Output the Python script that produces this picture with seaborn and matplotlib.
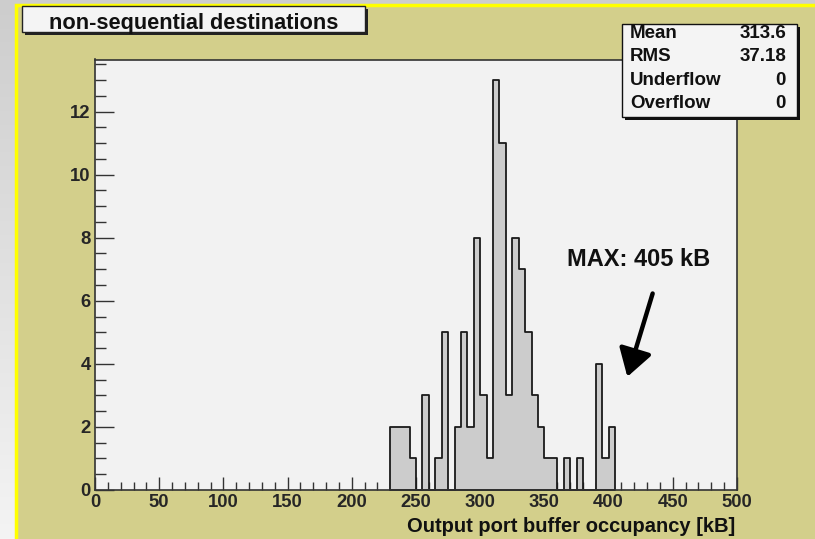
import numpy as np
import pandas as pd
import matplotlib
matplotlib.use("Agg")
import matplotlib.pyplot as plt
import seaborn as sns
from matplotlib.patches import Rectangle
from matplotlib.colors import LinearSegmentedColormap
from matplotlib.ticker import MultipleLocator

# ---------------- data ----------------
bin_lower_edges = [230, 235, 240, 245, 250, 255, 260, 265, 270, 275,
                   280, 285, 290, 295, 300, 305, 310, 315, 320, 325,
                   330, 335, 340, 345, 350, 355, 360, 365, 370, 375,
                   380, 385, 390, 395, 400]
counts = [2, 2, 2, 1, 0, 3, 0, 1, 5, 0,
          2, 5, 2, 8, 3, 1, 13, 11, 3, 8,
          7, 5, 3, 2, 1, 1, 0, 1, 0, 1,
          0, 0, 4, 1, 2]
bin_width = 5
x_ticks = [0, 50, 100, 150, 200, 250, 300, 350, 400, 450, 500]
y_ticks = [0, 2, 4, 6, 8, 10, 12]
title_text = "non-sequential destinations"
x_label = "Output port buffer occupancy [kB]"
stats_labels = ["Mean", "RMS", "Underflow", "Overflow"]
stats_values = ["313.6", "37.18", "0", "0"]
annotation_text = "MAX: 405 kB"

df = pd.DataFrame({"center": np.array(bin_lower_edges) + bin_width / 2,
                   "count": counts})
edges = list(bin_lower_edges) + [bin_lower_edges[-1] + bin_width]

# ---------------- style ----------------
sns.set_theme(style="white")
plt.rcParams["font.family"] = ["Liberation Sans", "DejaVu Sans"]
plt.rcParams["font.weight"] = "bold"

W, H = 815, 539
fig = plt.figure(figsize=(W / 100, H / 100), dpi=100)

# background (pixel coordinates)
bg = fig.add_axes([0, 0, 1, 1], zorder=-10)
bg.set_xlim(0, W)
bg.set_ylim(H, 0)
bg.axis("off")
grad = np.linspace(0, 1, 256).reshape(-1, 1)
cmap = LinearSegmentedColormap.from_list("g", ["#cdcdcd", "#f4f4f4"])
bg.imshow(grad, aspect="auto", cmap=cmap, extent=[0, W, H, 0], zorder=0)
bg.add_patch(Rectangle((16, 5), W, H, facecolor="#d3cf8b",
                       edgecolor="#ffff00", lw=2.5, zorder=1))

# main axes
L, R, T, B = 95, 737, 59.5, 490
ax = fig.add_axes([L / W, 1 - B / H, (R - L) / W, (B - T) / H], zorder=0)
ax.set_facecolor("#f2f2f2")

sns.histplot(data=df, x="center", weights="count", bins=edges,
             element="step", fill=True, color="#cccccc",
             edgecolor="#1a1a1a", linewidth=1.3, alpha=1, ax=ax)

ax.set_xlim(0, 500)
ax.set_ylim(0, 13.65)
ax.set_xticks(x_ticks)
ax.set_yticks(y_ticks)
ax.xaxis.set_minor_locator(MultipleLocator(10))
ax.yaxis.set_minor_locator(MultipleLocator(0.5))
ax.tick_params(axis="x", which="major", direction="in", length=9.5, width=1,
               color="#333333", labelsize=13.3, pad=3, bottom=True, top=False)
ax.tick_params(axis="x", which="minor", direction="in", length=5.5, width=1,
               color="#333333", bottom=True, top=False)
ax.tick_params(axis="y", which="major", direction="in", length=14, width=1,
               color="#333333", labelsize=13.3, pad=3, left=True, right=False)
ax.tick_params(axis="y", which="minor", direction="in", length=8, width=1,
               color="#333333", left=True, right=False)
for lab in ax.get_xticklabels() + ax.get_yticklabels():
    lab.set_fontweight("bold")
ax.set_xlabel("")
ax.set_ylabel("")
for side in ["left", "bottom", "top", "right"]:
    ax.spines[side].set_color("#333333")
    ax.spines[side].set_linewidth(1.2)
    ax.spines[side].set_visible(True)

# annotation
ax.text(423, 7.32, annotation_text, ha="center", va="center",
        fontsize=17, fontweight="bold", color="#111111")
ax.annotate("", xy=(414.6, 3.59), xytext=(434.3, 6.23),
            arrowprops=dict(arrowstyle="-|>,head_length=0.55,head_width=0.34",
                            lw=3.2, color="black", mutation_scale=30,
                            shrinkA=0, shrinkB=0))

# overlay (pixel coordinates) for title + stats boxes
ov = fig.add_axes([0, 0, 1, 1], zorder=5)
ov.set_xlim(0, W)
ov.set_ylim(H, 0)
ov.axis("off")
ov.patch.set_alpha(0)

# title box with shadow on right/bottom
tx0, ty0, tx1, ty1 = 22, 6, 365, 32
ov.add_patch(Rectangle((tx0 + 3, ty0 + 3), tx1 - tx0, ty1 - ty0,
                       facecolor="#222222", lw=0, zorder=1))
ov.add_patch(Rectangle((tx0, ty0), tx1 - tx0, ty1 - ty0, facecolor="#f4f4f4",
                       edgecolor="#222222", lw=1, zorder=2))
ov.text(194, 28.5, title_text, ha="center", va="baseline",
        fontsize=15.7, fontweight="bold", color="#111111", zorder=3)

# stats box with shadow right/bottom
sx0, sy0, sx1, sy1 = 621.5, 23.5, 796.5, 117
ov.add_patch(Rectangle((sx0 + 3, sy0 + 3), sx1 - sx0, sy1 - sy0,
                       facecolor="#111111", lw=0, zorder=1))
ov.add_patch(Rectangle((sx0, sy0), sx1 - sx0, sy1 - sy0, facecolor="#f4f4f4",
                       edgecolor="#111111", lw=1, zorder=2))
row_y = [33, 56.5, 80.5, 104]
for lab, val, yy in zip(stats_labels, stats_values, row_y):
    ov.text(630, yy, lab, ha="left", va="center", fontsize=13.5,
            fontweight="bold", color="#111111", zorder=3)
    ov.text(786, yy, val, ha="right", va="center", fontsize=13.5,
            fontweight="bold", color="#111111", zorder=3)

# x axis title
ov.text(735, 532, x_label, ha="right", va="baseline", fontsize=14.5,
        fontweight="bold", color="#111111", zorder=3)

fig.savefig("out.png", dpi=100)
